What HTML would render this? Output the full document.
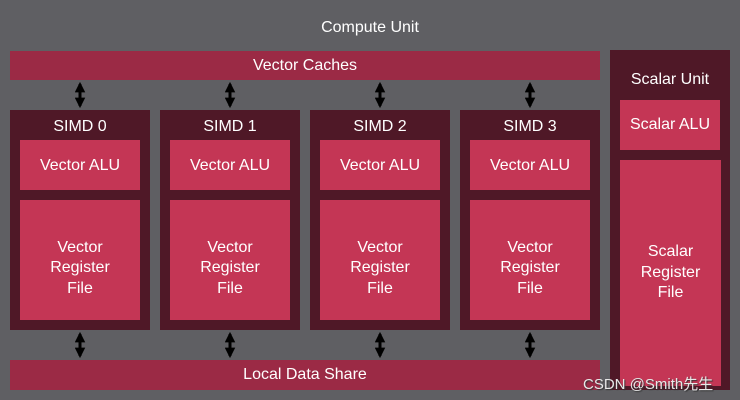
<!DOCTYPE html>
<html><head><style>
body{margin:0;width:740px;height:400px;background:#5f5f63;position:relative;overflow:hidden;font-family:"Liberation Sans","Noto Sans CJK SC",sans-serif;color:#fff}
div{position:absolute;box-sizing:border-box}
.bar{background:#9b2a45;display:flex;align-items:center;justify-content:center;font-size:16px}
.dk{background:#4f1827}
.bl{background:#c43655;display:flex;align-items:center;justify-content:center;text-align:center;font-size:16px;line-height:20.5px}
.vr{padding-top:17px}
.lbl{font-size:16px;text-align:center}
</style></head><body>
<div class="lbl" style="left:0;width:740px;top:19px">Compute Unit</div>
<div class="bar" style="left:10px;top:51px;width:590px;height:29px">Vector Caches</div>
<div class="bar" style="left:10px;top:360px;width:590px;height:30px">Local Data Share</div>

<div class="dk" style="left:10px;top:110px;width:140px;height:220px"><div class="lbl" style="left:0;width:140px;top:8px">SIMD 0</div></div>
<div class="dk" style="left:160px;top:110px;width:140px;height:220px"><div class="lbl" style="left:0;width:140px;top:8px">SIMD 1</div></div>
<div class="dk" style="left:310px;top:110px;width:140px;height:220px"><div class="lbl" style="left:0;width:140px;top:8px">SIMD 2</div></div>
<div class="dk" style="left:460px;top:110px;width:140px;height:220px"><div class="lbl" style="left:0;width:140px;top:8px">SIMD 3</div></div>

<div class="bl" style="left:20px;top:140px;width:120px;height:50px;padding-top:2px">Vector ALU</div>
<div class="bl" style="left:170px;top:140px;width:120px;height:50px;padding-top:2px">Vector ALU</div>
<div class="bl" style="left:320px;top:140px;width:120px;height:50px;padding-top:2px">Vector ALU</div>
<div class="bl" style="left:470px;top:140px;width:120px;height:50px;padding-top:2px">Vector ALU</div>
<div class="bl vr" style="left:20px;top:200px;width:120px;height:120px">Vector<br>Register<br>File</div>
<div class="bl vr" style="left:170px;top:200px;width:120px;height:120px">Vector<br>Register<br>File</div>
<div class="bl vr" style="left:320px;top:200px;width:120px;height:120px">Vector<br>Register<br>File</div>
<div class="bl vr" style="left:470px;top:200px;width:120px;height:120px">Vector<br>Register<br>File</div>

<div class="dk" style="left:610px;top:50px;width:120px;height:340px"><div class="lbl" style="left:0;width:120px;top:21px">Scalar Unit</div></div>
<div class="bl" style="left:620px;top:100px;width:100px;height:50px">Scalar ALU</div>
<div class="bl" style="left:620px;top:160px;width:101px;height:226px">Scalar<br>Register<br>File</div>

<svg width="740" height="400" style="position:absolute;left:0;top:0">
<defs><marker id="a" viewBox="0 0 10 10" refX="8" refY="5" markerWidth="3.5" markerHeight="3.5" orient="auto-start-reverse"><path d="M0,0L10,5L0,10z" fill="#000"/></marker></defs>
<g stroke="#000" stroke-width="3" marker-start="url(#a)" marker-end="url(#a)">
<line x1="80" y1="84" x2="80" y2="106"/><line x1="230" y1="84" x2="230" y2="106"/><line x1="380" y1="84" x2="380" y2="106"/><line x1="530" y1="84" x2="530" y2="106"/>
<line x1="80" y1="334" x2="80" y2="356"/><line x1="230" y1="334" x2="230" y2="356"/><line x1="380" y1="334" x2="380" y2="356"/><line x1="530" y1="334" x2="530" y2="356"/>
</g></svg>
<div style="left:583px;top:373px;font-size:15px;color:#e8e8e8;text-shadow:1px 1px 1px #333">CSDN @Smith先生</div>
</body></html>
